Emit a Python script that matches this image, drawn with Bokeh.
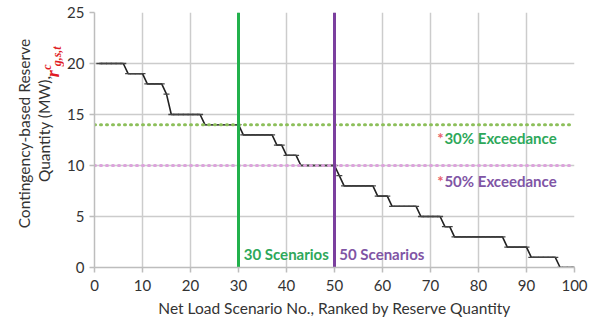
from bokeh.plotting import figure
from bokeh.layouts import row
from bokeh.models import Label, FixedTicker, ColumnDataSource
from bokeh.core.properties import value
from bokeh.embed import file_html
from bokeh.resources import INLINE
from math import pi

# ---- data ----
scenario = list(range(1, 101))
reserve = ([20] * 6 + [19] * 4 + [18] * 4 + [17] + [15] * 7 + [14] * 8 +
           [13] * 7 + [12] * 2 + [11] * 3 + [10] * 8 + [9] + [8] * 7 +
           [7] * 3 + [6] * 6 + [5] * 5 + [4] * 2 + [3] * 11 + [2] * 5 +
           [1] * 6 + [0] * 4)
exceed_scen = [30, 50]
exceed_qty = [14, 10]
exceed_colors = ["#22b14c", "#7b3f9e"]
dot_colors = ["#8cbf5a", "#dca3dc"]
x_ticks = list(range(0, 101, 10))
y_ticks = [0, 5, 10, 15, 20, 25]

FONT = "Lato"
LEFT_W = 64

p = figure(width=598 - LEFT_W, height=320, output_backend="svg",
           toolbar_location=None, x_range=(0, 100), y_range=(0, 25),
           min_border_left=92 - LEFT_W, min_border_right=24, min_border_top=12,
           min_border_bottom=53)
p.outline_line_color = None

for ax in (p.xaxis, p.yaxis):
    ax.axis_line_color = "#bdbdbd"
    ax.axis_line_width = 1.5
    ax.major_tick_line_color = "#bdbdbd"
    ax.major_tick_line_width = 1.5
    ax.major_tick_out = 5
    ax.major_tick_in = 0
    ax.minor_tick_line_color = None
    ax.major_label_text_font = FONT
    ax.major_label_text_font_size = "15px"
    ax.major_label_text_color = "#333333"
    ax.axis_label_text_font = FONT
    ax.axis_label_text_font_size = "15.5px"
    ax.axis_label_text_font_style = "normal"
    ax.axis_label_text_color = "#333333"
p.xaxis.ticker = FixedTicker(ticks=x_ticks)
p.yaxis.ticker = FixedTicker(ticks=y_ticks)
p.xaxis.major_label_standoff = 7
p.yaxis.major_label_standoff = 5
p.xaxis.axis_label = "Net Load Scenario No., Ranked by Reserve Quantity"
p.xaxis.axis_label_standoff = 5

p.xgrid.ticker = FixedTicker(ticks=x_ticks[1:])
p.ygrid.ticker = FixedTicker(ticks=y_ticks[1:-1])
p.xgrid.grid_line_color = "#cccccc"
p.ygrid.grid_line_color = "#cccccc"
p.xgrid.grid_line_width = 1.5
p.ygrid.grid_line_width = 1.5

# curve
src = ColumnDataSource(dict(x=scenario, y=reserve))
p.line("x", "y", source=src, line_color="#222222", line_width=1.6)
p.scatter("x", "y", source=src, marker="dash", size=6, line_color="#444444",
          line_width=1.3)

# horizontal dotted exceedance lines
for qty, c in zip(exceed_qty, dot_colors):
    p.line([0, 100], [qty, qty], line_color=c, line_width=3, line_dash="1 5",
           line_cap="round")

# vertical scenario lines
p.segment(x0=exceed_scen, y0=[0, 0], x1=exceed_scen, y1=[25, 25],
          line_color=exceed_colors, line_width=3)


def lab(x, y, text, color, size="15px", style="bold", **kw):
    p.add_layout(Label(x=x, y=y, text=text, text_color=color, text_font=FONT,
                       text_font_size=size, text_font_style=style,
                       text_baseline="middle", **kw))


lab(71.4, 12.65, "*", "#e8606a")
lab(72.9, 12.65, "30% Exceedance", "#2ea85a")
lab(71.4, 8.5, "*", "#e8606a")
lab(72.9, 8.5, "50% Exceedance", "#8055a5")
lab(31.1, 1.37, "30 Scenarios", "#2ea85a")
lab(51.0, 1.37, "50 Scenarios", "#8055a5")

# ---- left strip with the rotated y-axis title (no axes at all) ----
q = figure(width=LEFT_W, height=320, output_backend="svg", toolbar_location=None,
           x_range=(0, LEFT_W), y_range=(0, 320), min_border=0,
           x_axis_location=None, y_axis_location=None)
q.grid.visible = False
q.outline_line_color = None

q.text(x=[23, 43], y=[168, 174],
       text=["Contingency-based Reserve", "Quantity (MW),"],
       angle=pi / 2, text_align="center", text_baseline="alphabetic",
       text_font=value(FONT), text_font_size="15.5px", text_color="#333333")
q.text(x=[52], y=[243], text=["r"], angle=pi / 2, text_align="center",
       text_baseline="alphabetic", text_font=value("Liberation Serif"),
       text_font_size="18px", text_font_style="bold italic",
       text_color="#e01b24")
q.text(x=[46.5, 56], y=[251.5, 265], text=["c", "g,s,t"], angle=pi / 2,
       text_align="center", text_baseline="alphabetic",
       text_font=value("Liberation Serif"), text_font_size="12px",
       text_font_style="bold italic", text_color="#e01b24")

layout = row(q, p, spacing=0)
open("out.html", "w").write(file_html(layout, INLINE))
